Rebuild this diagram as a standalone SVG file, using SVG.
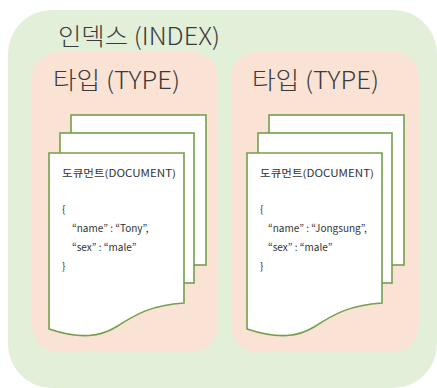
<svg xmlns="http://www.w3.org/2000/svg" width="437" height="388" viewBox="0 0 437 388">
  <defs>
    <style>
      .index { fill: #e2efd9; }
      .type { fill: #fae3d5; }
      .page { fill: #ffffff; stroke: #72a04c; stroke-width: 1.6; stroke-linejoin: miter; }
      .title { font-family: "Noto Sans CJK KR", "Noto Sans", sans-serif; font-size: 24px; font-weight: 300; fill: #3b3b3b; }
      .doc { font-family: "Noto Sans CJK KR", "Noto Sans", sans-serif; font-size: 10px; fill: #333333; }
    </style>
    <!-- one stack of three document pages, front page with a wavy bottom -->
    <g id="doc-stack">
      <rect class="page" x="71" y="115" width="135" height="150"/>
      <rect class="page" x="60" y="133" width="134" height="150"/>
      <path class="page" d="M49,153 L184,153 L184,303 C152,305 136,314 116,327 C101,336 82,340 49,329 Z"/>
    </g>
  </defs>

  <!-- index container -->
  <g id="index">
    <rect class="index" x="8" y="10" width="429" height="378" rx="44" ry="44"/>
    <text class="title" x="58" y="45" textLength="162" lengthAdjust="spacingAndGlyphs">인덱스 (INDEX)</text>
  </g>

  <!-- left type -->
  <g id="type-left">
    <rect class="type" x="32" y="52" width="186" height="300" rx="26" ry="26"/>
    <text class="title" x="53" y="89" textLength="127" lengthAdjust="spacingAndGlyphs">타입 (TYPE)</text>
  </g>

  <!-- right type -->
  <g id="type-right">
    <rect class="type" x="231" y="52" width="188" height="300" rx="26" ry="26"/>
    <text class="title" x="252" y="89" textLength="127" lengthAdjust="spacingAndGlyphs">타입 (TYPE)</text>
  </g>

  <!-- left document -->
  <g id="document-left">
    <use href="#doc-stack"/>
    <text class="doc" x="62" y="177" textLength="114" lengthAdjust="spacingAndGlyphs">도큐먼트(DOCUMENT)</text>
    <text class="doc" x="62" y="213">{</text>
    <text class="doc" x="72" y="232">“name” : “Tony”,</text>
    <text class="doc" x="72" y="251">“sex” : “male”</text>
    <text class="doc" x="62" y="270">}</text>
  </g>

  <!-- right document -->
  <g id="document-right">
    <use href="#doc-stack" transform="translate(198,0)"/>
    <text class="doc" x="260" y="177" textLength="114" lengthAdjust="spacingAndGlyphs">도큐먼트(DOCUMENT)</text>
    <text class="doc" x="260" y="213">{</text>
    <text class="doc" x="268" y="232">“name” : “Jongsung”,</text>
    <text class="doc" x="268" y="251">“sex” : “male”</text>
    <text class="doc" x="260" y="270">}</text>
  </g>
</svg>
